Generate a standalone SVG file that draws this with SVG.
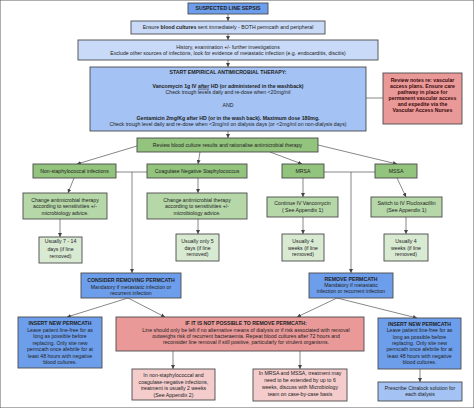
<svg xmlns="http://www.w3.org/2000/svg" width="474" height="408" viewBox="0 0 474 408">
<style>
text{font-family:"Liberation Sans",Arial,sans-serif;font-size:5.2px;fill:#222;text-anchor:middle}
.b{font-weight:bold}
rect{stroke:#4a4a4a;stroke-width:0.9}
.blue{fill:#6d9eeb}.lblue{fill:#c9daf8}.mblue{fill:#a4c2f4}
.red{fill:#ea9999}.lred{fill:#f4cccc}
.green{fill:#93c47d}.lgreen{fill:#b6d7a8}.pgreen{fill:#d9ead3}
.c line{stroke:#555;stroke-width:0.7}
.rn text{fill:#3a0a0a;font-weight:bold}
</style>
<defs><marker id="a" markerUnits="userSpaceOnUse" markerWidth="4" markerHeight="4" refX="4" refY="2" orient="auto"><path d="M0,0 L4,2 L0,4 z" fill="#444"/></marker></defs>
<rect width="474" height="408" fill="#fff" stroke="none"/>
<g class="c">
<line x1="228" y1="14" x2="228" y2="21" marker-end="url(#a)"/>
<line x1="228" y1="34" x2="228" y2="40" marker-end="url(#a)"/>
<line x1="228" y1="60" x2="228" y2="67" marker-end="url(#a)"/>
<line x1="228" y1="131" x2="228" y2="138" marker-end="url(#a)"/>
<line x1="366" y1="98" x2="383" y2="98"/>
<line x1="137" y1="146" x2="77" y2="164" marker-end="url(#a)"/>
<line x1="200" y1="152" x2="198" y2="164" marker-end="url(#a)"/>
<line x1="270" y1="152" x2="302" y2="164" marker-end="url(#a)"/>
<line x1="318" y1="145" x2="397" y2="164" marker-end="url(#a)"/>
<line x1="74" y1="178" x2="68" y2="193" marker-end="url(#a)"/>
<line x1="198" y1="178" x2="198" y2="193" marker-end="url(#a)"/>
<line x1="303" y1="178" x2="303" y2="197" marker-end="url(#a)"/>
<line x1="397" y1="178" x2="406" y2="197" marker-end="url(#a)"/>
<line x1="60" y1="219" x2="60" y2="237" marker-end="url(#a)"/>
<line x1="198" y1="219" x2="198" y2="234" marker-end="url(#a)"/>
<line x1="303" y1="217" x2="303" y2="234" marker-end="url(#a)"/>
<line x1="406" y1="217" x2="406" y2="234" marker-end="url(#a)"/>
<line x1="116" y1="172" x2="147" y2="172"/>
<line x1="132" y1="172" x2="132" y2="273" marker-end="url(#a)"/>
<line x1="324" y1="172" x2="375" y2="172"/>
<line x1="351" y1="172" x2="351" y2="273" marker-end="url(#a)"/>
<line x1="128" y1="298" x2="67" y2="317" marker-end="url(#a)"/>
<line x1="128" y1="298" x2="165" y2="317" marker-end="url(#a)"/>
<line x1="337" y1="298" x2="297" y2="317" marker-end="url(#a)"/>
<line x1="337" y1="298" x2="417" y2="318" marker-end="url(#a)"/>
<line x1="173" y1="351" x2="173" y2="369" marker-end="url(#a)"/>
<line x1="300" y1="351" x2="300" y2="369" marker-end="url(#a)"/>
<line x1="420" y1="369" x2="420" y2="382" marker-end="url(#a)"/>
</g>
<g id="n1"><rect class="blue" x="188" y="3" width="80" height="11"/><text class="b" x="228" y="10.3">SUSPECTED LINE SEPSIS</text></g>
<g id="n2"><rect class="lblue" x="131" y="21" width="194" height="13"/><text x="228" y="28.8">Ensure <tspan class="b">blood cultures</tspan> sent immediately - BOTH permcath and peripheral</text></g>
<g id="n3"><rect class="lblue" x="78" y="40" width="300" height="20"/><text x="228" y="48.5">History, examination +/- further investigations</text><text x="228" y="54.7">Exclude other sources of infections, look for evidence of metastatic infection (e.g. endocarditis, discitis)</text></g>
<g id="n4"><rect class="mblue" x="90" y="67" width="276" height="64"/>
<text class="b" x="228" y="73.8">START EMPIRICAL ANTIMICROBIAL THERAPY:</text>
<text class="b" x="228" y="87.8">Vancomycin 1g IV <tspan text-decoration="underline">after</tspan> HD (or administered in the washback)</text>
<text x="228" y="93.8">Check trough levels daily and re-dose when &lt;20mg/ml</text>
<text x="228" y="107">AND</text>
<text class="b" x="228" y="119.8">Gentamicin 2mg/Kg after HD (or in the wash back). Maximum dose 180mg.</text>
<text x="228" y="125.8">Check trough level daily and re-dose when &lt;3mg/ml on dialysis days (or &lt;2mg/ml on non-dialysis days)</text></g>
<g id="n5" class="rn"><rect class="red" x="383" y="73" width="79" height="51"/>
<text x="422.5" y="81.8">Review notes re: vascular</text><text x="422.5" y="87.8">access plans. Ensure care</text><text x="422.5" y="93.8">pathway in place for</text><text x="422.5" y="99.8">permanent vascular access</text><text x="422.5" y="105.8">and expedite via the</text><text x="422.5" y="111.8">Vascular Access Nurses</text></g>
<g id="n6"><rect class="green" x="137" y="138" width="181" height="14"/><text x="227.5" y="146.8">Review blood culture results and rationalise antimicrobial therapy</text></g>
<g id="n7"><rect class="green" x="33" y="164" width="83" height="14"/><text x="74.5" y="172.8">Non-staphylococcal infections</text></g>
<g id="n8"><rect class="green" x="147" y="164" width="100" height="14"/><text x="197" y="172.8">Coagulase Negative Staphylococcus</text></g>
<g id="n9"><rect class="green" x="282" y="164" width="42" height="14"/><text x="303" y="172.8">MRSA</text></g>
<g id="n10"><rect class="green" x="375" y="164" width="42" height="14"/><text x="396" y="172.8">MSSA</text></g>
<g id="n11"><rect class="lgreen" x="23" y="193" width="84" height="26"/><text x="65" y="201.8">Change antimicrobial therapy</text><text x="65" y="208.3">according to sensitivities +/-</text><text x="65" y="214.8">microbiology advice.</text></g>
<g id="n12"><rect class="lgreen" x="147" y="193" width="100" height="26"/><text x="197" y="201.8">Change antimicrobial therapy</text><text x="197" y="208.3">according to sensitivities +/-</text><text x="197" y="214.8">microbiology advice.</text></g>
<g id="n13"><rect class="lgreen" x="267" y="197" width="71" height="20"/><text x="302.5" y="204.8">Continue IV Vancomycin</text><text x="302.5" y="211.8">( See Appendix 1)</text></g>
<g id="n14"><rect class="lgreen" x="371" y="197" width="71" height="20"/><text x="406.5" y="204.8">Switch to IV Flucloxacillin</text><text x="406.5" y="211.8">(See Appendix 1)</text></g>
<g id="n15"><rect class="pgreen" x="39" y="237" width="43" height="26"/><text x="60.5" y="243">Usually 7 - 14</text><text x="60.5" y="250.6">days  (if line</text><text x="60.5" y="258.2">removed)</text></g>
<g id="n16"><rect class="pgreen" x="176" y="234" width="43" height="27"/><text x="197.5" y="242.8">Usually only 5</text><text x="197.5" y="249.5">days (if line</text><text x="197.5" y="256.2">removed)</text></g>
<g id="n17"><rect class="pgreen" x="282" y="234" width="42" height="27"/><text x="303" y="242.8">Usually 4</text><text x="303" y="249.5">weeks  (if line</text><text x="303" y="256.2">removed)</text></g>
<g id="n18"><rect class="pgreen" x="384" y="234" width="44" height="27"/><text x="406" y="242.8">Usually 4</text><text x="406" y="249.5">weeks  (if line</text><text x="406" y="256.2">removed)</text></g>
<g id="n19"><rect class="blue" x="81" y="273" width="100" height="25"/><text class="b" x="131" y="281.8">CONSIDER REMOVING PERMCATH</text><text x="131" y="288.5">Mandatory if metastatic infection or</text><text x="131" y="295.2">recurrent infection</text></g>
<g id="n20"><rect class="blue" x="309" y="273" width="84" height="25"/><text class="b" x="351" y="281">REMOVE PERMCATH</text><text x="351" y="287">Mandatory if metastatic</text><text x="351" y="293">infection or recurrent infection</text></g>
<g id="n21"><rect class="blue" x="18" y="317" width="84" height="51"/><text class="b" x="60" y="325">INSERT NEW PERMCATH</text><text x="60" y="331.5">Leave patient line-free for as</text><text x="60" y="338">long as possible before</text><text x="60" y="344.5">replacing. Only site new</text><text x="60" y="351">permcath once afebrile for at</text><text x="60" y="357.5">least 48 hours with negative</text><text x="60" y="364">blood cultures.</text></g>
<g id="n22"><rect class="red" x="116" y="317" width="248" height="34"/><text class="b" x="246" y="325">IF IT IS NOT POSSIBLE TO REMOVE PERMCATH:</text><text x="246" y="331.7">Line should only be left if no alternative means of dialysis or if risk associated with removal</text><text x="246" y="337.9">outweighs risk of recurrent bacteraemia. Repeat blood cultures after 72 hours and</text><text x="246" y="344.1">reconsider line removal if still positive, particularly for virulent organisms.</text></g>
<g id="n23"><rect class="blue" x="378" y="318" width="83" height="51"/><text class="b" x="419.5" y="325.8">INSERT NEW PERMCATH</text><text x="419.5" y="332.2">Leave patient line-free for as</text><text x="419.5" y="338.6">long as possible before</text><text x="419.5" y="345">replacing. Only site new</text><text x="419.5" y="351.4">permcath once afebrile for at</text><text x="419.5" y="357.8">least 48 hours with negative</text><text x="419.5" y="364.2">blood cultures.</text></g>
<g id="n24"><rect class="lred" x="132" y="369" width="83" height="31"/><text x="173.5" y="376.8">In non-staphylococcal and</text><text x="173.5" y="383.5">coagulase-negative infections,</text><text x="173.5" y="390.2">treatment is usually 2 weeks</text><text x="173.5" y="396.9">(See Appendix 2)</text></g>
<g id="n25"><rect class="lred" x="253" y="369" width="94" height="32"/><text x="300" y="375.2">In MRSA and MSSA, treatment may</text><text x="300" y="381.9">need to be extended by up to 6</text><text x="300" y="388.6">weeks, discuss with Microbiology</text><text x="300" y="395.5">team on case-by-case basis</text></g>
<g id="n26"><rect class="mblue" x="378" y="382" width="84" height="19"/><text x="420" y="390">Prescribe Citralock solution for</text><text x="420" y="396.2">each dialysis</text></g>
</svg>
